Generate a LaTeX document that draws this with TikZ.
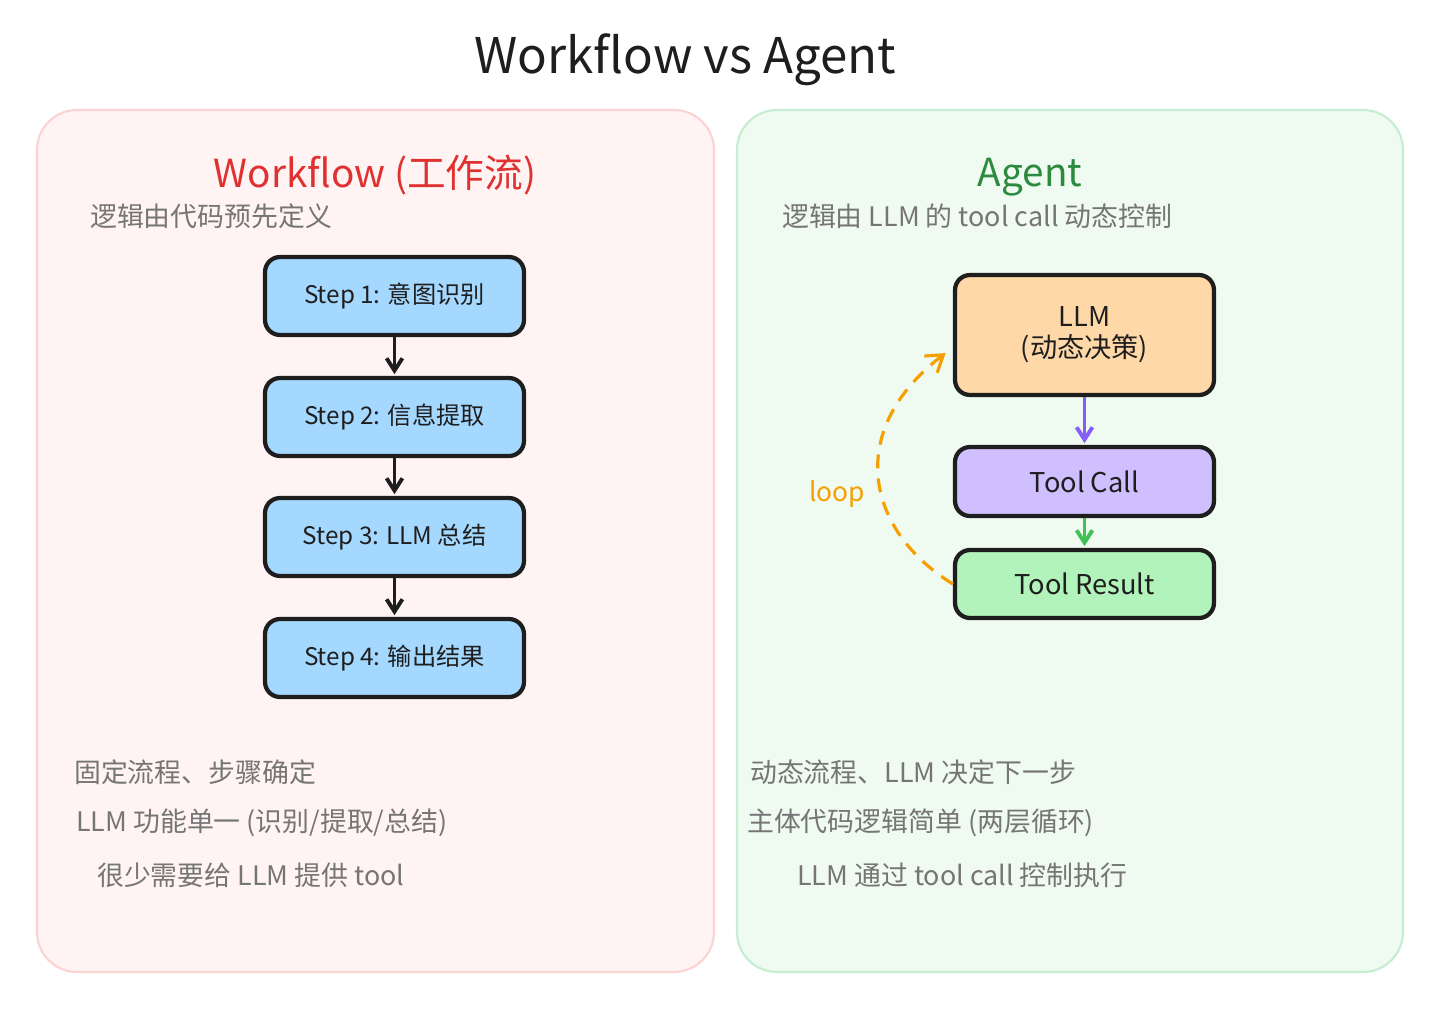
\documentclass[tikz,border=0pt]{standalone}
\usepackage{fontspec}
\setmainfont{Noto Sans CJK SC}
\usetikzlibrary{arrows.meta}
\definecolor{inkblack}{HTML}{1E1E1E}
\definecolor{notegray}{HTML}{757575}
\definecolor{wfred}{HTML}{E03131}
\definecolor{aggreen}{HTML}{2B8A3E}
\definecolor{wfbg}{HTML}{FFF4F3}
\definecolor{wfline}{HTML}{FBD3D3}
\definecolor{agbg}{HTML}{EFFAF1}
\definecolor{agline}{HTML}{C6EDD0}
\definecolor{stepblue}{HTML}{A5D8FF}
\definecolor{llmorange}{HTML}{FFD8A8}
\definecolor{callviolet}{HTML}{D0BFFF}
\definecolor{resgreen}{HTML}{B2F2BB}
\definecolor{arrviolet}{HTML}{845EF7}
\definecolor{arrgreen}{HTML}{40C057}
\definecolor{looporange}{HTML}{F59F00}
\newcommand{\pt}[1]{\fontsize{#1}{#1}\selectfont}
\begin{document}
\begin{tikzpicture}[x=0.02cm, y=-0.02cm, shorten >=1pt, >={Straight Barb[length=7pt,width=9pt]},
  panel/.style={rounded corners=0.8cm, line width=1.2pt},
  box node/.style={rectangle, rounded corners=0.3cm, draw=inkblack, line width=2.4pt, minimum width=5.18cm, inner sep=0pt, align=center, text=inkblack},
  step node/.style={box node, fill=stepblue, minimum height=1.56cm, font=\pt{13.8}},
  note/.style={anchor=west, text=notegray, font=\pt{15.3}},
  link/.style={->, line width=2.2pt}]
\useasboundingbox[fill=white] (0,0) rectangle (1440,1014);
% panels
\draw[panel, draw=wfline, fill=wfbg] (37,110) rectangle (714,972);
\draw[panel, draw=agline, fill=agbg] (737,110) rectangle (1403,972);
\begin{scope}
\node[text=inkblack, font=\pt{28}] (title) at (685,60) {Workflow vs Agent};
\node[text=wfred, font=\pt{22}] (wf) at (375,175) {Workflow (工作流)};
\node[note] (wfsub) at (84,216) {逻辑由代码预先定义};
\node[text=aggreen, font=\pt{22}] (ag) at (1030,177) {Agent};
\node[note] (agsub) at (776,216) {逻辑由 LLM 的 tool call 动态控制};
\end{scope}
% workflow steps
\begin{scope}
\node[step node] (s1) at (394.5,296) {Step 1: 意图识别};
\node[step node] (s2) at (394.5,417) {Step 2: 信息提取};
\node[step node] (s3) at (394.5,537) {Step 3: LLM 总结};
\node[step node] (s4) at (394.5,658) {Step 4: 输出结果};
\end{scope}
\begin{scope}[link, draw=inkblack]
\draw (s1) edge (s2);
\draw (s2) edge (s3);
\draw (s3) edge (s4);
\end{scope}
% agent loop
\begin{scope}[every node/.style={box node, font=\pt{15.5}}]
\node[fill=llmorange, minimum height=2.4cm] (llm) at (1084.5,335) {LLM\\[2pt](动态决策)};
\node[fill=callviolet, minimum height=1.38cm] (tc) at (1084.5,481.5) {Tool Call};
\node[fill=resgreen, minimum height=1.36cm] (tr) at (1084.5,584) {Tool Result};
\end{scope}
\draw[link, draw=arrviolet] (llm) edge (tc);
\draw[link, draw=arrgreen] (tc) edge (tr);
\coordinate (loopend) at (947,352);
\draw[->, >={Straight Barb[length=9pt,width=12pt]}, draw=looporange, line width=1.8pt, dash pattern=on 0.28cm off 0.2cm] (tr.west) .. controls (865,530) and (845,430) .. (loopend);
\node[text=looporange, font=\pt{15}] (looplabel) at (837,494) {loop};
% notes
\begin{scope}[every node/.style={note}]
\node (wfn1) at (68,772) {固定流程、步骤确定};
\node (wfn2) at (70,823) {LLM 功能单一 (识别/提取/总结)};
\node (wfn3) at (91,875) {很少需要给 LLM 提供 tool};
\node (agn1) at (744,772) {动态流程、LLM 决定下一步};
\node (agn2) at (741,823) {主体代码逻辑简单 (两层循环)};
\node (agn3) at (791,875) {LLM 通过 tool call 控制执行};
\end{scope}
\end{tikzpicture}
\end{document}
